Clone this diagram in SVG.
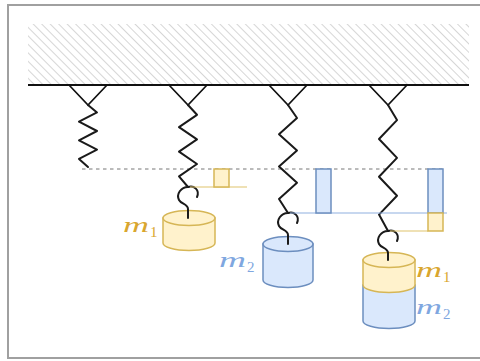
<svg xmlns="http://www.w3.org/2000/svg" width="480" height="361" viewBox="0 0 480 361">
<defs>
<pattern id="hatch" width="6" height="6" patternUnits="userSpaceOnUse" patternTransform="rotate(-45)">
<line x1="0" y1="0" x2="0" y2="6" stroke="#c9c9c9" stroke-width="1.5"/>
</pattern>
<style>
.spring{fill:none;stroke:#1a1a1a;stroke-width:2;stroke-linejoin:round;stroke-linecap:round}
.mount{fill:none;stroke:#111;stroke-width:1.7}
.y{fill:#fff2cc;stroke:#d6b656;stroke-width:1.5}
.b{fill:#dae8fc;stroke:#6c8ebf;stroke-width:1.5}
.ly{stroke:#e0c46c;stroke-width:1.2}
.lb{stroke:#8fb0e0;stroke-width:1.2}
.lm{font-family:"Liberation Serif",serif;font-style:italic;font-size:22px}
.ls{font-family:"Liberation Serif",serif;font-size:15px}
.gold{fill:#d9a62e}
.blue{fill:#7fa7e0}
</style>
</defs>
<rect x="8" y="5" width="480" height="353" fill="#fff" stroke="#a0a0a0" stroke-width="2"/>
<g id="ceiling">
<rect x="28" y="24" width="441" height="61" fill="url(#hatch)"/>
<line x1="28" y1="85" x2="469" y2="85" stroke="#111" stroke-width="2"/>
</g>
<g id="reference">
<line x1="82" y1="169" x2="445" y2="169" stroke="#777" stroke-width="1" stroke-dasharray="3.5,3.5"/>
</g>
<g id="connectors">
<polyline class="mount" points="69,85 88,105 107,85"/>
<polyline class="mount" points="169,85 188,105 207,85"/>
<polyline class="mount" points="269,85 288,105 307,85"/>
<polyline class="mount" points="369,85 388,105 407,85"/>
<polyline class="spring" points="88,105 97,112.4 79,121.7 97,131 79,140.3 97,149.6 79,158.9 88,167"/>
<polyline class="spring" points="188,105 197,114.8 179,127.1 197,139.4 179,151.7 197,164 179,176.3 188,187"/>
<polyline class="spring" points="288,105 297,118 279,134.2 297,150.4 279,166.6 297,182.8 279,199 288,213"/>
<polyline class="spring" points="388,105 397,120.1 379,139 397,157.9 379,176.8 397,195.7 379,214.6 388,231"/>
</g>
<g id="mass1">
<path class="y" d="M163,218 v25 a26,7.5 0 0 0 52,0 v-25 Z"/>
<ellipse class="y" cx="189" cy="218" rx="26" ry="7.5"/>
<path class="spring" d="M188,187 C194,185 200,190 197,197 M188,187 C181,187 176,194 179,200 C181,204 188,204 188,209 L188,218"/>
<text class="lm gold" x="123" y="232" textLength="26" lengthAdjust="spacingAndGlyphs">m</text>
<text class="ls gold" x="150" y="237">1</text>
</g>
<g id="mass2">
<path class="b" d="M263,244 v36 a25,7.5 0 0 0 50,0 v-36 Z"/>
<ellipse class="b" cx="288" cy="244" rx="25" ry="7.5"/>
<path class="spring" d="M288,213 C294,211 300,216 297,223 M288,213 C281,213 276,220 279,226 C281,230 288,230 288,235 L288,244"/>
<text class="lm blue" x="219" y="267" textLength="27" lengthAdjust="spacingAndGlyphs">m</text>
<text class="ls blue" x="247" y="272">2</text>
</g>
<g id="mass12">
<path class="b" d="M363,285 v36 a26,7.5 0 0 0 52,0 v-36 Z"/>
<path class="y" d="M363,260 v25 a26,7.5 0 0 0 52,0 v-25 Z"/>
<ellipse class="y" cx="389" cy="260" rx="26" ry="7.5"/>
<path class="spring" d="M388,231 C394,229 400,234 397,241 M388,231 C381,231 376,238 379,244 C381,248 388,248 388,253 L388,260"/>
<text class="lm gold" x="416" y="277" textLength="26" lengthAdjust="spacingAndGlyphs">m</text>
<text class="ls gold" x="443" y="282">1</text>
<text class="lm blue" x="416" y="314" textLength="26" lengthAdjust="spacingAndGlyphs">m</text>
<text class="ls blue" x="443" y="319">2</text>
</g>
<g id="indicators">
<line class="ly" x1="190" y1="187" x2="247" y2="187"/>
<rect class="y" x="214" y="169" width="15" height="18"/>
<line class="lb" x1="290" y1="213" x2="447" y2="213"/>
<rect class="b" x="316" y="169" width="15" height="44"/>
<rect class="b" x="428" y="169" width="15" height="44"/>
<line class="ly" x1="390" y1="231" x2="428" y2="231"/>
<rect class="y" x="428" y="213" width="15" height="18"/>
</g>
</svg>
